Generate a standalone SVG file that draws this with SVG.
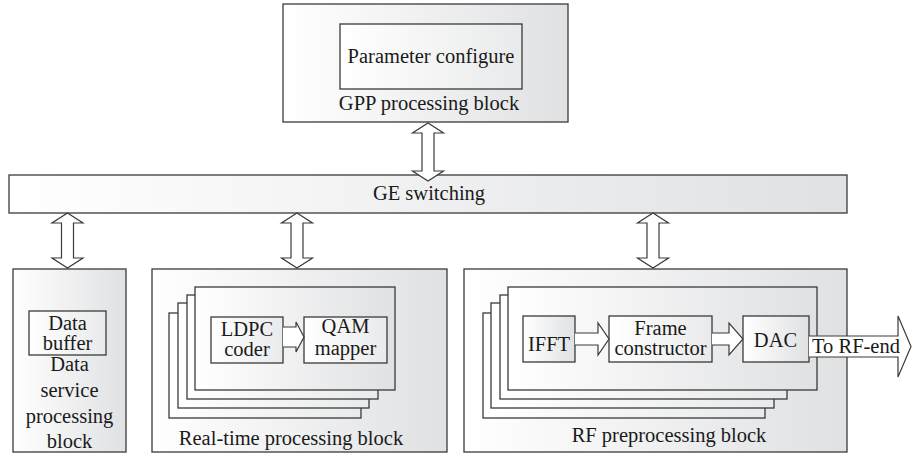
<svg xmlns="http://www.w3.org/2000/svg" width="912" height="454" viewBox="0 0 912 454" font-family="'Liberation Serif', 'Times New Roman', serif">
  <style>
    text { font-family: 'Liberation Serif', 'Times New Roman', serif; font-size: 20.5px; fill: #1a1a1a; text-anchor: middle; }
    .blk { fill: url(#shade); stroke: #3a3a3a; stroke-width: 1.3; }
    .inner { fill: url(#light); stroke: #3a3a3a; stroke-width: 1.3; }
    .page { fill: url(#light); stroke: #3a3a3a; stroke-width: 1.3; }
    .arr { fill: #ffffff; stroke: #3a3a3a; stroke-width: 1.2; stroke-linejoin: miter; }
  </style>
  <defs>
    <linearGradient id="shade" x1="0" y1="0" x2="1" y2="0">
      <stop offset="0" stop-color="#ffffff"/>
      <stop offset="1" stop-color="#e0e1e3"/>
    </linearGradient>
    <linearGradient id="light" x1="0" y1="0" x2="1" y2="0">
      <stop offset="0" stop-color="#ffffff"/>
      <stop offset="1" stop-color="#e9eaeb"/>
    </linearGradient>
  </defs>

  <rect width="912" height="454" fill="#ffffff"/>

  <!-- GPP processing block -->
  <g id="gpp">
    <rect class="blk" x="283" y="4" width="285" height="118"/>
    <rect class="inner" x="340" y="24" width="182" height="65"/>
    <text x="431" y="63">Parameter configure</text>
    <text x="429" y="110">GPP processing block</text>
  </g>

  <!-- GE switching bar -->
  <g id="ge">
    <rect class="blk" x="9" y="175" width="838" height="38"/>
    <text x="429" y="200">GE switching</text>
  </g>

  <!-- Data service processing block -->
  <g id="data-service">
    <rect class="blk" x="13" y="269" width="113" height="183"/>
    <rect class="inner" x="29" y="311" width="77" height="44"/>
    <text x="67.5" y="330">Data</text>
    <text x="67.5" y="350">buffer</text>
    <text x="69.5" y="371">Data</text>
    <text x="69.5" y="397">service</text>
    <text x="69.5" y="423">processing</text>
    <text x="69.5" y="448">block</text>
  </g>

  <!-- Real-time processing block -->
  <g id="realtime">
    <rect class="blk" x="152" y="269" width="295" height="183"/>
    <rect class="page" x="169" y="313" width="192" height="105"/>
    <rect class="page" x="178" y="303" width="191" height="105"/>
    <rect class="page" x="187" y="295" width="191" height="104"/>
    <rect class="blk" x="195" y="287" width="200" height="103"/>
    <rect class="inner" x="211" y="317" width="72" height="46"/>
    <text x="247" y="336">LDPC</text>
    <text x="247" y="356">coder</text>
    <rect class="inner" x="304" y="317" width="83" height="46"/>
    <text x="345.5" y="333">QAM</text>
    <text x="345.5" y="355">mapper</text>
    <text x="291" y="445">Real-time processing block</text>
  </g>

  <!-- RF preprocessing block -->
  <g id="rf">
    <rect class="blk" x="464" y="269" width="383" height="183"/>
    <rect class="page" x="483" y="313" width="282" height="105"/>
    <rect class="page" x="491" y="303" width="283" height="105"/>
    <rect class="page" x="500" y="295" width="287" height="104"/>
    <rect class="blk" x="508" y="287" width="309" height="103"/>
    <rect class="blk" x="523" y="316" width="52" height="46"/>
    <text x="549" y="351">IFFT</text>
    <rect class="inner" x="609" y="316" width="103" height="46"/>
    <text x="660.5" y="335">Frame</text>
    <text x="660.5" y="355">constructor</text>
    <rect class="blk" x="743" y="316" width="66" height="46"/>
    <text x="775.5" y="347">DAC</text>
    <text x="669" y="442">RF preprocessing block</text>
  </g>

  <!-- Connectors -->
  <g id="connectors">
    <!-- two-way links to the GE switch -->
    <polygon class="arr" points="428,123 443.5,133 434,133 434,171 443.5,171 428,181 412.5,171 422,171 422,133 412.5,133"/>
    <polygon class="arr" points="67.5,213 83,223 73.5,223 73.5,258 83,258 67.5,268 52,258 61.5,258 61.5,223 52,223"/>
    <polygon class="arr" points="297,213 312.5,223 303,223 303,258 312.5,258 297,268 281.5,258 291,258 291,223 281.5,223"/>
    <polygon class="arr" points="653,213 668.5,223 659,223 659,258 668.5,258 653,268 637.5,258 647,258 647,223 637.5,223"/>
    <!-- processing chain arrows -->
    <polyline class="arr" points="283,327 296,327 296,322 304,337 296,352 296,347 283,347"/>
    <polyline class="arr" points="575,333 598,333 598,323 609,339 598,355 598,345 575,345"/>
    <polyline class="arr" points="712,333 729,333 729,323 743,339 729,355 729,345 712,345"/>
    <!-- output to RF front end -->
    <polyline class="arr" points="809,336 898,336 898,316 911,346.5 898,377 898,357 809,357"/>
    <text x="812" y="353" style="text-anchor:start">To RF-end</text>
  </g>
</svg>
